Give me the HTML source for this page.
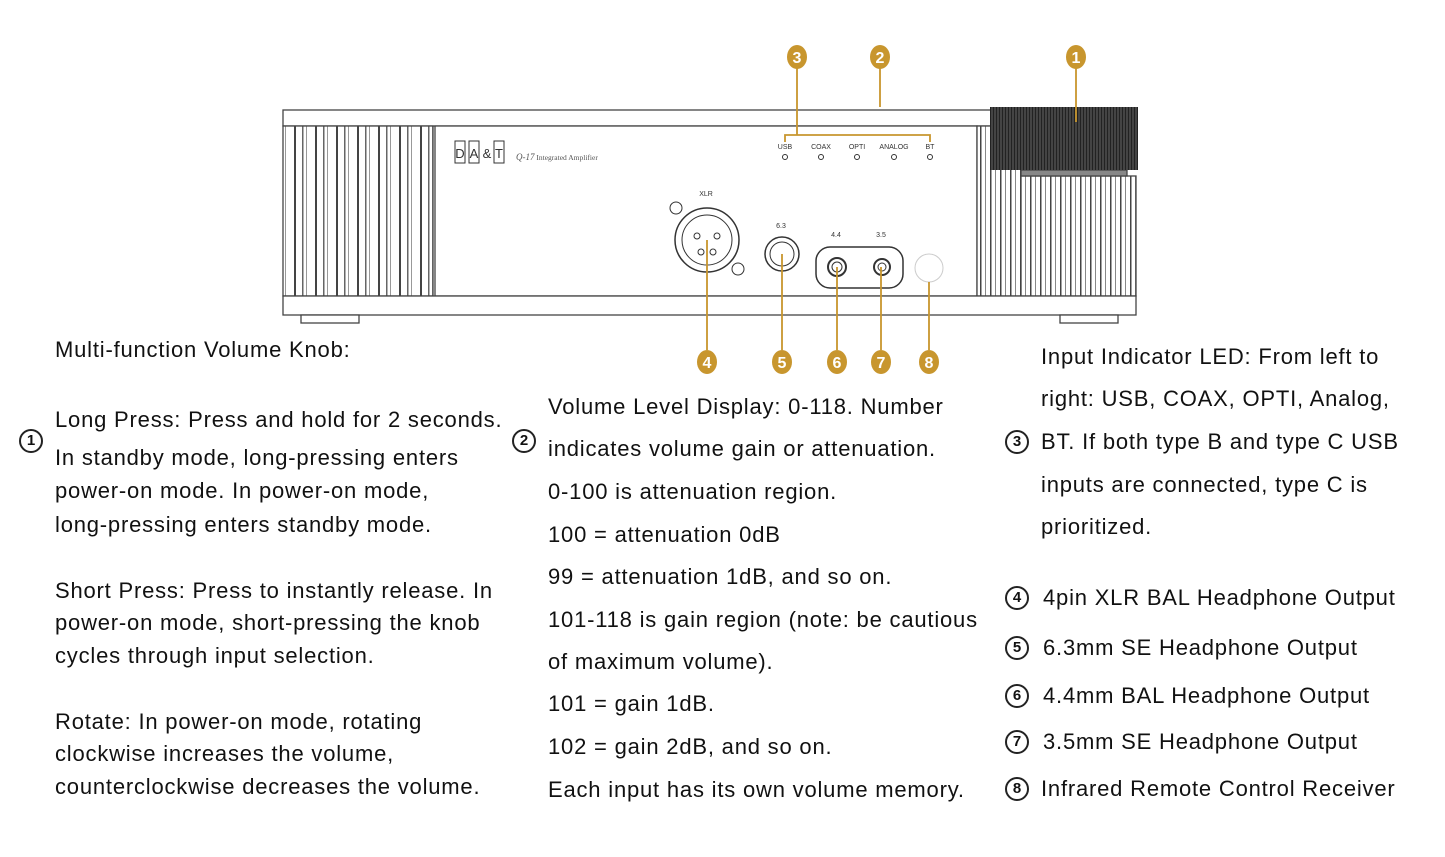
<!DOCTYPE html>
<html><head><meta charset="utf-8"><style>
body{margin:0;width:1445px;height:857px;background:#fff;position:relative;overflow:hidden;font-family:"Liberation Sans",sans-serif;color:#111}
.t{position:absolute;font-size:22px;letter-spacing:0.8px;white-space:nowrap;line-height:1;transform:translateY(-50%)}
.c{position:absolute;width:20px;height:20px;border:2px solid #222;border-radius:50%;font-size:15px;font-weight:bold;line-height:20px;text-align:center;transform:translate(-50%,-50%)}
svg{position:absolute;left:0;top:0}
</style></head><body>
<svg width="1445" height="857" viewBox="0 0 1445 857">
<defs>
<pattern id="gr" width="21" height="10" patternUnits="userSpaceOnUse"><rect width="21" height="10" fill="#fff"/><rect x="0" width="2" height="10" fill="#444"/><rect x="8" width="1.5" height="10" fill="#666"/><rect x="12" width="1" height="10" fill="#999"/></pattern>
<pattern id="gr2" width="10" height="10" patternUnits="userSpaceOnUse"><rect width="10" height="10" fill="#fff"/><rect x="0" width="1.5" height="10" fill="#444"/><rect x="5" width="1" height="10" fill="#888"/></pattern>
<pattern id="kn" width="3" height="10" patternUnits="userSpaceOnUse"><rect width="3" height="10" fill="#444"/><rect width="1" height="10" fill="#222"/></pattern>
</defs>
<g stroke="#444" stroke-width="1.3" fill="#fff">
<rect x="283" y="110" width="708" height="16"/>
<rect x="283" y="126" width="150" height="170" fill="url(#gr)"/>
<rect x="435" y="126" width="542" height="170"/>
<rect x="977" y="126" width="44" height="170" fill="url(#gr2)"/>
<rect x="1021" y="176" width="115" height="120" fill="url(#gr2)"/>
<rect x="1021" y="170" width="106" height="6" fill="#888"/>
<rect x="283" y="296" width="853" height="19"/>
<rect x="301" y="315" width="58" height="8"/>
<rect x="1060" y="315" width="58" height="8"/>
</g>
<rect x="990" y="107" width="148" height="63" fill="url(#kn)"/>
<g fill="none" stroke="#333" stroke-width="1">
<rect x="455" y="141" width="10" height="22"/><rect x="469" y="141" width="10" height="22"/><rect x="494" y="141" width="10" height="22"/>
</g>
<g font-family="Liberation Sans" font-size="13" fill="#333" text-anchor="middle">
<text x="460" y="158">D</text><text x="474" y="158">A</text><text x="487" y="158">&amp;</text><text x="499" y="158">T</text>
</g>
<text x="516" y="160" font-family="Liberation Serif" font-size="7.5" fill="#555"><tspan font-style="italic" font-size="9">Q-17</tspan> Integrated Amplifier</text>
<g font-family="Liberation Sans" font-size="7" fill="#333" text-anchor="middle">
<text x="785" y="149">USB</text><text x="821" y="149">COAX</text><text x="857" y="149">OPTI</text><text x="894" y="149">ANALOG</text><text x="930" y="149">BT</text>
<text x="706" y="196">XLR</text><text x="781" y="228">6.3</text><text x="836" y="237">4.4</text><text x="881" y="237">3.5</text>
</g>
<g fill="none" stroke="#333" stroke-width="1">
<circle cx="785" cy="157" r="2.5"/><circle cx="821" cy="157" r="2.5"/><circle cx="857" cy="157" r="2.5"/><circle cx="894" cy="157" r="2.5"/><circle cx="930" cy="157" r="2.5"/>
<circle cx="707" cy="240" r="32" stroke-width="1.5"/><circle cx="707" cy="240" r="25"/>
<circle cx="697" cy="236" r="3"/><circle cx="717" cy="236" r="3"/><circle cx="701" cy="252" r="3"/><circle cx="713" cy="252" r="3"/>
<circle cx="676" cy="208" r="6"/><circle cx="738" cy="269" r="6"/>
<circle cx="782" cy="254" r="17" stroke-width="1.5"/><circle cx="782" cy="254" r="12"/>
<rect x="816" y="247" width="87" height="41" rx="14" stroke-width="1.5"/>
<circle cx="837" cy="267" r="9" stroke-width="2"/><circle cx="837" cy="267" r="5"/>
<circle cx="882" cy="267" r="8" stroke-width="2"/><circle cx="882" cy="267" r="4"/>
<circle cx="929" cy="268" r="14" stroke="#ccc"/>
</g>
<g stroke="#c8962e" stroke-width="1.8" fill="none">
<path d="M797 68V135M785 142V135H930V142"/>
<path d="M880 68V107"/>
<path d="M1076 68V122"/>
<path d="M707 240V350M782 254V350M837 267V350M881 267V350M929 282V350"/>
</g>
<g fill="#c8962e">
<ellipse cx="797" cy="57" rx="10" ry="12"/><ellipse cx="880" cy="57" rx="10" ry="12"/><ellipse cx="1076" cy="57" rx="10" ry="12"/>
<ellipse cx="707" cy="362" rx="10" ry="12"/><ellipse cx="782" cy="362" rx="10" ry="12"/><ellipse cx="837" cy="362" rx="10" ry="12"/><ellipse cx="881" cy="362" rx="10" ry="12"/><ellipse cx="929" cy="362" rx="10" ry="12"/>
</g>
<g font-family="Liberation Sans" font-size="16" font-weight="bold" fill="#fff" text-anchor="middle">
<text x="797" y="63">3</text><text x="880" y="63">2</text><text x="1076" y="63">1</text>
<text x="707" y="368">4</text><text x="782" y="368">5</text><text x="837" y="368">6</text><text x="881" y="368">7</text><text x="929" y="368">8</text>
</g>
</svg>

<div class="t" style="left:55px;top:350px">Multi-function Volume Knob:</div>
<div class="c" style="left:31px;top:441px">1</div>
<div class="t" style="left:55px;top:420px">Long Press: Press and hold for 2 seconds.</div>
<div class="t" style="left:55px;top:458px">In standby mode, long-pressing enters</div>
<div class="t" style="left:55px;top:491px">power-on mode. In power-on mode,</div>
<div class="t" style="left:55px;top:525px">long-pressing enters standby mode.</div>
<div class="t" style="left:55px;top:591px">Short Press: Press to instantly release. In</div>
<div class="t" style="left:55px;top:623px">power-on mode, short-pressing the knob</div>
<div class="t" style="left:55px;top:656px">cycles through input selection.</div>
<div class="t" style="left:55px;top:722px">Rotate: In power-on mode, rotating</div>
<div class="t" style="left:55px;top:754px">clockwise increases the volume,</div>
<div class="t" style="left:55px;top:787px">counterclockwise decreases the volume.</div>

<div class="c" style="left:524px;top:441px">2</div>
<div class="t" style="left:548px;top:407px">Volume Level Display: 0-118. Number</div>
<div class="t" style="left:548px;top:449px">indicates volume gain or attenuation.</div>
<div class="t" style="left:548px;top:492px">0-100 is attenuation region.</div>
<div class="t" style="left:548px;top:535px">100 = attenuation 0dB</div>
<div class="t" style="left:548px;top:577px">99 = attenuation 1dB, and so on.</div>
<div class="t" style="left:548px;top:620px">101-118 is gain region (note: be cautious</div>
<div class="t" style="left:548px;top:662px">of maximum volume).</div>
<div class="t" style="left:548px;top:704px">101 = gain 1dB.</div>
<div class="t" style="left:548px;top:747px">102 = gain 2dB, and so on.</div>
<div class="t" style="left:548px;top:790px">Each input has its own volume memory.</div>

<div class="c" style="left:1017px;top:442px">3</div>
<div class="t" style="left:1041px;top:357px">Input Indicator LED: From left to</div>
<div class="t" style="left:1041px;top:399px">right: USB, COAX, OPTI, Analog,</div>
<div class="t" style="left:1041px;top:442px">BT. If both type B and type C USB</div>
<div class="t" style="left:1041px;top:485px">inputs are connected, type C is</div>
<div class="t" style="left:1041px;top:527px">prioritized.</div>

<div class="c" style="left:1017px;top:598px">4</div><div class="t" style="left:1043px;top:598px">4pin XLR BAL Headphone Output</div>
<div class="c" style="left:1017px;top:648px">5</div><div class="t" style="left:1043px;top:648px">6.3mm SE Headphone Output</div>
<div class="c" style="left:1017px;top:696px">6</div><div class="t" style="left:1043px;top:696px">4.4mm BAL Headphone Output</div>
<div class="c" style="left:1017px;top:742px">7</div><div class="t" style="left:1043px;top:742px">3.5mm SE Headphone Output</div>
<div class="c" style="left:1017px;top:789px">8</div><div class="t" style="left:1041px;top:789px">Infrared Remote Control Receiver</div>
</body></html>
